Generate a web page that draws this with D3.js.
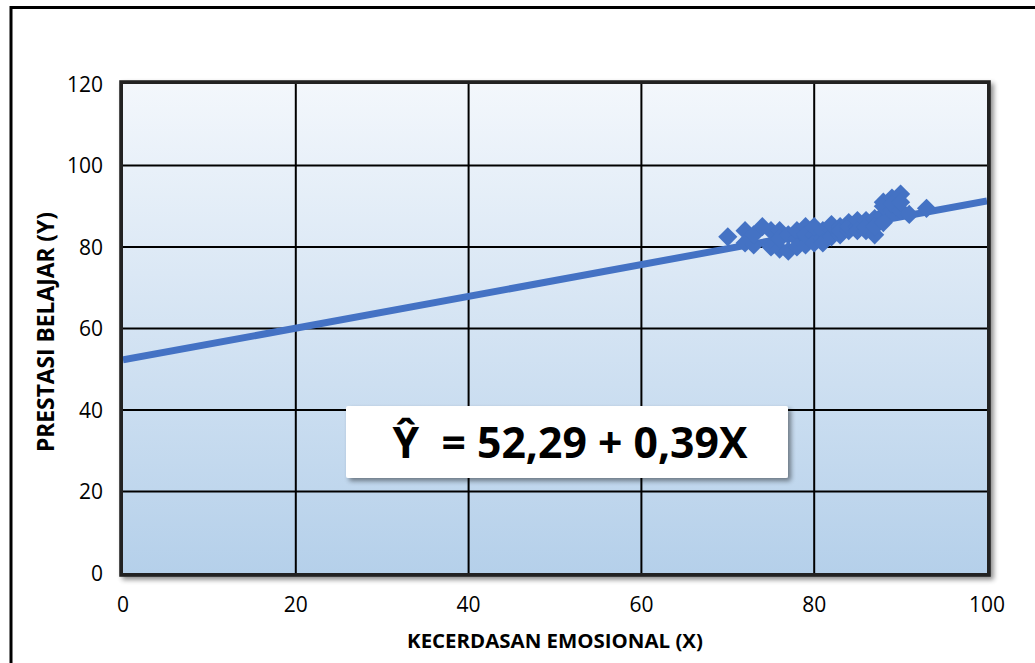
<!DOCTYPE html>
<html><head><meta charset="utf-8">
<script src="https://cdn.jsdelivr.net/npm/d3@7"></script>
<style>
html,body{margin:0;padding:0;background:#fff;}
svg{display:block;font-family:"Open Sans",Lato,sans-serif;}
</style></head>
<body>
<svg id="c" width="1035" height="663"></svg>
<script>
// Data
const xValues = [70,72,72,73,73,74,75,75,76,76,76,77,77,78,78,78,79,79,79,80,80,80,81,81,81,82,82,82,83,83,83,84,84,84,85,85,85,86,86,86,87,87,87,88,88,88,88,89,89,89,90,90,90,91,93];
const yValues = [82.5,84,81,80.5,83,85,80,84,84,79.5,82,83,79,82,84,80,85,80.5,83,83,81,85,82,84,81,84,82.5,85.5,85,83,84,86,84,85,85,86.5,84,84,86.5,85,87,83,85,91,88,86,90,92,89,90.5,93,89,91,88,89.5];
const intercept = 52.29, slope = 0.39;
const xTicks = [0,20,40,60,80,100];
const yTicks = [0,20,40,60,80,100,120];
const xTitle = "KECERDASAN EMOSIONAL (X)";
const yTitle = "PRESTASI BELAJAR (Y)";
const equation = "Ŷ  = 52,29 + 0,39X";

const svg = d3.select("#c");
const L=123, R=987, T=84, B=573;
const x = d3.scaleLinear().domain([0,100]).range([L,R]);
const y = d3.scaleLinear().domain([0,120]).range([B,T]);

function fit(sel, w){
  const fs = +sel.attr("font-size");
  const len = sel.node().getComputedTextLength();
  if (len>0) sel.attr("font-size", fs*w/len);
}

const defs = svg.append("defs");
const g = defs.append("linearGradient").attr("id","bg").attr("x1",0).attr("y1",0).attr("x2",0).attr("y2",1);
g.append("stop").attr("offset","0%").attr("stop-color","#f3f7fc");
g.append("stop").attr("offset","100%").attr("stop-color","#b5d0ea");
const f = defs.append("filter").attr("id","sh").attr("x","-10%").attr("y","-10%").attr("width","130%").attr("height","130%");
f.append("feGaussianBlur").attr("in","SourceAlpha").attr("stdDeviation",2.5);
f.append("feOffset").attr("dx",3).attr("dy",3).attr("result","o");
f.append("feComponentTransfer").append("feFuncA").attr("type","linear").attr("slope",0.45);
const m = f.append("feMerge"); m.append("feMergeNode"); m.append("feMergeNode").attr("in","SourceGraphic");

// outer border
svg.append("rect").attr("x",11).attr("y",7.5).attr("width",1040).attr("height",700)
  .attr("fill","none").attr("stroke","#000").attr("stroke-width",3);

// plot area
svg.append("rect").attr("x",L-2).attr("y",T-2).attr("width",R-L+4).attr("height",B-T+4)
  .attr("fill","url(#bg)").attr("stroke","#1a1a1a").attr("stroke-width",3.5).attr("filter","url(#sh)");
svg.append("rect").attr("x",L).attr("y",T).attr("width",R-L).attr("height",B-T).attr("fill","url(#bg)");

// grid
svg.append("g").selectAll("line").data(xTicks.slice(1,-1)).join("line")
  .attr("x1",d=>x(d)).attr("x2",d=>x(d)).attr("y1",T).attr("y2",B).attr("stroke","#000").attr("stroke-width",2);
svg.append("g").selectAll("line").data(yTicks.slice(1,-1)).join("line")
  .attr("y1",d=>y(d)).attr("y2",d=>y(d)).attr("x1",L).attr("x2",R).attr("stroke","#000").attr("stroke-width",2);

// frame inner
svg.append("rect").attr("x",L-1.5).attr("y",T-1.5).attr("width",R-L+3).attr("height",B-T+3)
  .attr("fill","none").attr("stroke","#222").attr("stroke-width",3);

// regression line
defs.append("clipPath").attr("id","pc").append("rect").attr("x",L).attr("y",T).attr("width",R-L).attr("height",B-T);
svg.append("line").attr("clip-path","url(#pc)")
  .attr("x1",x(0)).attr("y1",y(intercept)).attr("x2",x(100)).attr("y2",y(intercept+slope*100))
  .attr("stroke","#4472c4").attr("stroke-width",7);

// points
const pts = xValues.map((v,i)=>({x:v,y:yValues[i]}));
svg.append("g").selectAll("path").data(pts).join("path")
  .attr("d",d3.symbol().type(d3.symbolDiamond2).size(235))
  .attr("transform",d=>`translate(${x(d.x)},${y(d.y)})`)
  .attr("fill","#4472c4");

// tick labels
svg.append("g").selectAll("text").data(yTicks).join("text")
  .attr("x",103).attr("y",d=>y(d)+7.5).attr("text-anchor","end").attr("font-size",21).attr("fill","#000").text(d=>d);
svg.append("g").selectAll("text").data(xTicks).join("text")
  .attr("x",d=>x(d)).attr("y",612).attr("text-anchor","middle").attr("font-size",21).attr("fill","#000").text(d=>d);

// titles
const xt = svg.append("text").attr("x",555).attr("y",648).attr("text-anchor","middle").attr("font-size",16)
  .attr("font-weight","bold").text(xTitle);
fit(xt, 296);
const yt = svg.append("text").attr("transform","translate(54,332) rotate(-90)").attr("text-anchor","middle")
  .attr("font-size",16).attr("font-weight","bold").text(yTitle);
fit(yt, 240);

// equation box
svg.append("rect").attr("x",346).attr("y",406).attr("width",442).attr("height",72).attr("rx",2)
  .attr("fill","#fff").attr("filter","url(#sh)");
const eq = svg.append("text").attr("x",570).attr("y",458).attr("text-anchor","middle").attr("font-size",33)
  .attr("font-weight","bold").attr("fill","#000").attr("xml:space","preserve").style("white-space","pre").text(equation);
fit(eq, 355);
</script>
</body></html>
